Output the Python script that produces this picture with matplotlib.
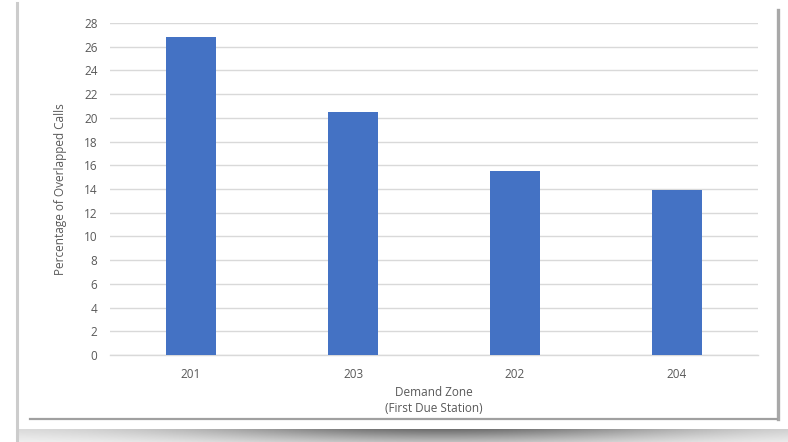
import matplotlib
matplotlib.use("Agg")
import matplotlib.pyplot as plt
from matplotlib.lines import Line2D
import numpy as np

zones = ["201", "203", "202", "204"]
overlap_pct = [26.8, 20.5, 15.5, 13.9]
y_ticks = list(range(0, 30, 2))

plt.rcParams['font.family'] = ['Open Sans', 'DejaVu Sans']
text_col = "#595959"
grid_col = "#d9d9d9"

fig = plt.figure(figsize=(7.88, 4.42), dpi=100)
fig.patch.set_facecolor("white")

# card outline with a soft shadow
W, H = 788.0, 442.0
def fline(x0, y0, x1, y1, c, lw):
    fig.add_artist(Line2D([x0 / W, x1 / W], [1 - y0 / H, 1 - y1 / H],
                          transform=fig.transFigure, color=c, lw=lw))

fline(16.5, 3, 16.5, 442, "#cccccc", 2.2)
fline(777.5, 10, 777.5, 419, "#a8a8a8", 2.4)
fline(30, 418.5, 777, 418.5, "#a0a0a0", 1.6)

# shadow band below the card
sh = fig.add_axes([18 / W, 0, 770 / W, 13 / H])
xs = np.linspace(-1, 1, 400)
prof = 0.45 * np.exp(-((xs - 0.1) / 0.65) ** 2) + 0.12
vert = np.linspace(1.0, 0.45, 20)[:, None]
shade = 1 - prof[None, :] * vert
sh.imshow(shade, cmap="gray", vmin=0, vmax=1, aspect="auto")
sh.axis("off")

ax = fig.add_axes([110 / W, 1 - 355 / H, 648 / W, 332 / H])
x = np.arange(len(zones))
ax.bar(x, overlap_pct, width=0.31, color="#4472C4", zorder=3)

ax.set_xlim(-0.5, len(zones) - 0.5)
ax.set_ylim(0, 28)
ax.set_yticks(y_ticks)
ax.set_xticks(x)
ax.set_xticklabels(zones)
ax.yaxis.grid(True, color=grid_col, lw=1.0, zorder=0)
for s in ["top", "right", "left"]:
    ax.spines[s].set_visible(False)
ax.spines["bottom"].set_color(grid_col)
ax.spines["bottom"].set_linewidth(1.0)
ax.tick_params(axis="both", length=0, colors=text_col, labelsize=8.5)
ax.tick_params(axis="y", pad=9)
ax.tick_params(axis="x", pad=9)

ax.set_ylabel("Percentage of Overlapped Calls", color=text_col, fontsize=8.5, labelpad=12)
ax.set_xlabel("Demand Zone\n(First Due Station)", color=text_col, fontsize=8.5,
              labelpad=4, linespacing=1.3)

fig.savefig("out.png", dpi=100, facecolor="white")
